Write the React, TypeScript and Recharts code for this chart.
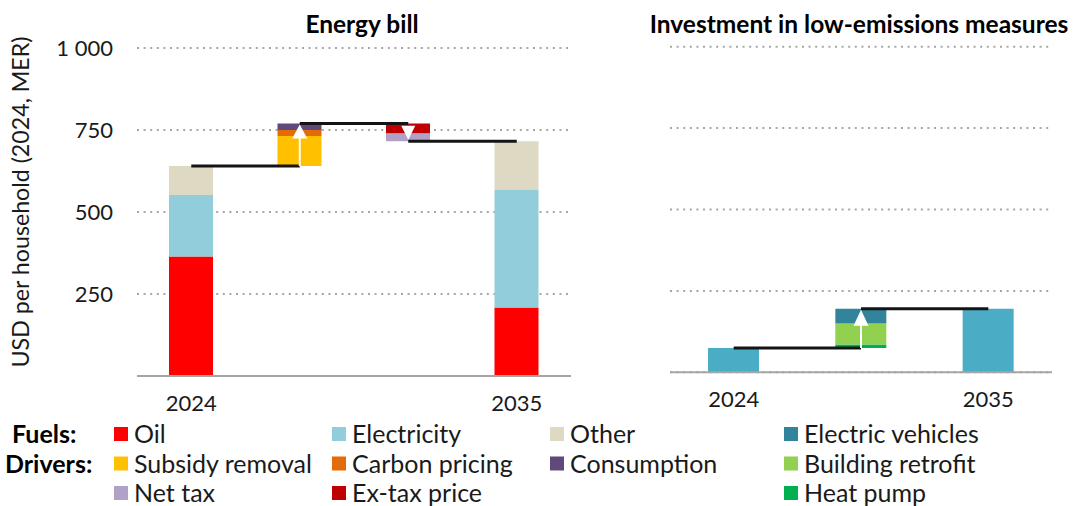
import React from 'react';
import { ComposedChart, Bar, Line, XAxis, YAxis, CartesianGrid, ReferenceLine } from 'recharts';

// ---------- Energy bill (USD per household) ----------
const billKeys = ['2024', 'increase', 'decrease', '2035'];
const billLabels = ['2024', '', '', '2035'];
const oil = [364, 0, 0, 209];
const electricity = [188, 0, 0, 358];
const otherFuels = [88, 0, 0, 149];
const subsidyRemoval = [0, 92, 0, 0];
const carbonPricing = [0, 18, 0, 0];
const consumption = [0, 20, 0, 0];
const netTax = [0, 0, 24, 0];
const exTaxPrice = [0, 0, 30, 0];

// ---------- Investment in low-emissions measures ----------
const invKeys = ['2024', 'change', '2035'];
const invLabels = ['2024', '', '2035'];
const invTotal = [75, 0, 195];
const heatPump = [0, 10, 0];
const buildingRetrofit = [0, 65, 0];
const electricVehicles = [0, 45, 0];

const yTicks = [250, 500, 750, 1000];
const yDomain = [0, 1000];

const C = {
  oil: '#FF0000',
  electricity: '#92CDDC',
  other: '#DDD9C3',
  ev: '#31849B',
  subsidy: '#FFC000',
  carbon: '#E36C09',
  consumption: '#604A7B',
  retrofit: '#92D050',
  netTax: '#B2A1C7',
  exTax: '#C00000',
  heatPump: '#00B050',
  inv: '#4BACC6',
  grid: '#A6A6A6',
  line: '#141414',
};

const FONT = 'Lato, "Open Sans", sans-serif';

// derived waterfall helpers
const total2024 = oil[0] + electricity[0] + otherFuels[0];
const peak = total2024 + subsidyRemoval[1] + carbonPricing[1] + consumption[1];
const total2035 = oil[3] + electricity[3] + otherFuels[3];

const billData = billKeys.map((k, i) => ({
  key: k,
  base: i === 1 ? total2024 : i === 2 ? total2035 : 0,
  oil: oil[i],
  electricity: electricity[i],
  other: otherFuels[i],
  subsidy: subsidyRemoval[i],
  carbon: carbonPricing[i],
  consumption: consumption[i],
  netTax: netTax[i],
  exTax: exTaxPrice[i],
  c1: i <= 1 ? total2024 : null,
  c2: i === 1 || i === 2 ? peak : null,
  c3: i >= 2 ? total2035 : null,
}));

const invStart = invTotal[0];
const invEnd = invTotal[2];
const invData = invKeys.map((k, i) => ({
  key: k,
  base: i === 1 ? invStart : 0,
  total: invTotal[i],
  heatPump: heatPump[i],
  retrofit: buildingRetrofit[i],
  ev: electricVehicles[i],
  c1: i <= 1 ? invStart : null,
  c2: i >= 1 ? invEnd : null,
}));

const fmt = (v: number) => (v >= 1000 ? `${Math.floor(v / 1000)} ${String(v % 1000).padStart(3, '0')}` : String(v));

const makeUpArrow = (headW: number, headH: number) => (props: any) => {
  const { x1, y1, y2 } = props;
  const yb = Math.max(y1, y2);
  const yt = Math.min(y1, y2) + 1;
  return (
    <g>
      <line x1={x1} x2={x1} y1={yb} y2={yt + headH - 1} stroke="#fff" strokeWidth={2} />
      <polygon points={`${x1 - headW / 2},${yt + headH} ${x1 + headW / 2},${yt + headH} ${x1},${yt}`} fill="#fff" />
    </g>
  );
};

const DownTriangle = (props: any) => {
  const { x1, y1, y2 } = props;
  const yb = Math.max(y1, y2) - 1.5;
  const w = 14;
  const h = 14;
  return <polygon points={`${x1 - w / 2},${yb - h} ${x1 + w / 2},${yb - h} ${x1},${yb}`} fill="#fff" />;
};

const tickStyle = { fontSize: 22, fill: '#1a1a1a', fontFamily: FONT };

const legendRows = [
  { label: 'Fuels:', lx: 12, items: [['Oil', C.oil, 0], ['Electricity', C.electricity, 1], ['Other', C.other, 2], ['Electric vehicles', C.ev, 3]] },
  { label: 'Drivers:', lx: 5, items: [['Subsidy removal', C.subsidy, 0], ['Carbon pricing', C.carbon, 1], ['Consumption', C.consumption, 2], ['Building retrofit', C.retrofit, 3]] },
  { label: '', lx: 0, items: [['Net tax', C.netTax, 0], ['Ex-tax price', C.exTax, 1], ['Heat pump', C.heatPump, 3]] },
];
const colSwatchX = [114, 332, 550, 784];
const rowCenterY = [434, 463.5, 493];

export default function App() {
  return (
    <div style={{ position: 'absolute', left: 0, top: 0, width: 1079, height: 506, background: '#fff', fontFamily: FONT }}>
      <div style={{ position: 'absolute', left: 0, top: 0 }}>
        <ComposedChart width={580} height={420} data={billData} margin={{ top: 48, right: 9, bottom: 14, left: 0 }} barSize={44}>
          <CartesianGrid vertical={false} stroke={C.grid} strokeWidth={2} strokeDasharray="2 4.6" />
          <XAxis dataKey="key" height={30} tickLine={false} tickSize={0} tickMargin={19}
            axisLine={{ stroke: C.grid, strokeWidth: 2 }} tick={tickStyle}
            tickFormatter={(v: string) => billLabels[billKeys.indexOf(v)]} interval={0} />
          <YAxis width={137} domain={yDomain} ticks={yTicks} axisLine={false} tickLine={false} tickSize={0} tickMargin={24}
            tick={tickStyle} tickFormatter={fmt} allowDataOverflow />
          <Bar dataKey="base" stackId="s" fill="transparent" isAnimationActive={false} />
          <Bar dataKey="oil" stackId="s" fill={C.oil} isAnimationActive={false} />
          <Bar dataKey="electricity" stackId="s" fill={C.electricity} isAnimationActive={false} />
          <Bar dataKey="other" stackId="s" fill={C.other} isAnimationActive={false} />
          <Bar dataKey="subsidy" stackId="s" fill={C.subsidy} isAnimationActive={false} />
          <Bar dataKey="carbon" stackId="s" fill={C.carbon} isAnimationActive={false} />
          <Bar dataKey="consumption" stackId="s" fill={C.consumption} isAnimationActive={false} />
          <Bar dataKey="netTax" stackId="s" fill={C.netTax} isAnimationActive={false} />
          <Bar dataKey="exTax" stackId="s" fill={C.exTax} isAnimationActive={false} />
          <Line dataKey="c1" stroke={C.line} strokeWidth={3} dot={false} activeDot={false} isAnimationActive={false} />
          <Line dataKey="c2" stroke={C.line} strokeWidth={3} dot={false} activeDot={false} isAnimationActive={false} />
          <Line dataKey="c3" stroke={C.line} strokeWidth={3} dot={false} activeDot={false} isAnimationActive={false} />
          <ReferenceLine segment={[{ x: billKeys[1], y: total2024 }, { x: billKeys[1], y: peak }]} shape={makeUpArrow(15, 14)} />
          <ReferenceLine segment={[{ x: billKeys[2], y: peak }, { x: billKeys[2], y: total2035 }]} shape={DownTriangle} />
        </ComposedChart>
      </div>
      <div style={{ position: 'absolute', left: 600, top: 0 }}>
        <ComposedChart width={479} height={420} data={invData} margin={{ top: 46.7, right: 27, bottom: 17.7, left: 70 }} barSize={51}>
          <CartesianGrid vertical={false} stroke={C.grid} strokeWidth={2} strokeDasharray="2 4.6" />
          <XAxis dataKey="key" height={30} tickLine={false} tickSize={0} tickMargin={19}
            axisLine={{ stroke: C.grid, strokeWidth: 2 }} tick={tickStyle}
            tickFormatter={(v: string) => invLabels[invKeys.indexOf(v)]} interval={0} />
          <YAxis hide width={0} domain={yDomain} ticks={yTicks} allowDataOverflow />
          <Bar dataKey="base" stackId="s" fill="transparent" isAnimationActive={false} />
          <Bar dataKey="total" stackId="s" fill={C.inv} isAnimationActive={false} />
          <Bar dataKey="heatPump" stackId="s" fill={C.heatPump} isAnimationActive={false} />
          <Bar dataKey="retrofit" stackId="s" fill={C.retrofit} isAnimationActive={false} />
          <Bar dataKey="ev" stackId="s" fill={C.ev} isAnimationActive={false} />
          <Line dataKey="c1" stroke={C.line} strokeWidth={3} dot={false} activeDot={false} isAnimationActive={false} />
          <Line dataKey="c2" stroke={C.line} strokeWidth={3} dot={false} activeDot={false} isAnimationActive={false} />
          <ReferenceLine segment={[{ x: invKeys[1], y: invStart }, { x: invKeys[1], y: invEnd }]} shape={makeUpArrow(15, 16)} />
        </ComposedChart>
      </div>
      <svg width={1079} height={506} style={{ position: 'absolute', left: 0, top: 0, pointerEvents: 'none' }}>
        <text x={362} y={33} textAnchor="middle" fontWeight={700} fontSize={24.5} fill="#000" fontFamily={FONT}>Energy bill</text>
        <text x={859} y={33} textAnchor="middle" fontWeight={700} fontSize={24.5} fill="#000" fontFamily={FONT}>Investment in low-emissions measures</text>
        <text x={29} y={202} textAnchor="middle" fontSize={23.2} fill="#1a1a1a" fontFamily={FONT} transform="rotate(-90, 29, 202)">USD per household (2024, MER)</text>
        {legendRows.map((row, r) => (
          <g key={r}>
            {row.label && (
              <text x={row.lx} y={rowCenterY[r] + 9} fontWeight={700} fontSize={25} fill="#000" fontFamily={FONT}>{row.label}</text>
            )}
            {row.items.map(([name, color, col]) => (
              <g key={name as string}>
                <rect x={colSwatchX[col as number]} y={rowCenterY[r] - 7} width={14} height={14} fill={color as string} />
                <text x={colSwatchX[col as number] + 20} y={rowCenterY[r] + 9} fontSize={25} fill="#1a1a1a" fontFamily={FONT}>{name}</text>
              </g>
            ))}
          </g>
        ))}
      </svg>
    </div>
  );
}
